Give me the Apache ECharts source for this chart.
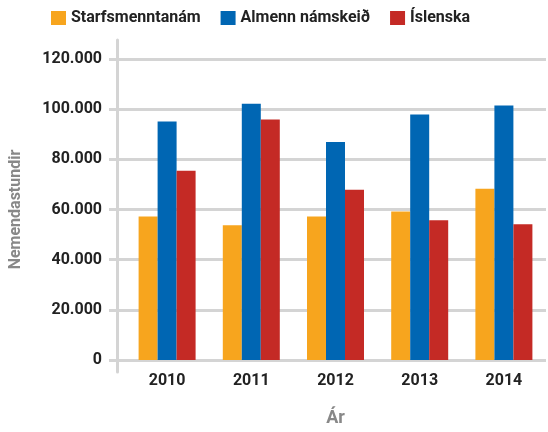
<!DOCTYPE html>
<html>
<head>
<meta charset="utf-8">
<script src="https://cdn.jsdelivr.net/npm/echarts@6/dist/echarts.min.js"></script>
<style>
  html, body { margin: 0; padding: 0; background: #fff; }
  #chart { width: 548px; height: 432px; }
</style>
</head>
<body>
<div id="chart"></div>
<script>
var years = ['2010', '2011', '2012', '2013', '2014'];
var starfsmenntanam = [57200, 53700, 57200, 59200, 68300];
var almennNamskeid = [95100, 102200, 86900, 97900, 101500];
var islenska = [75400, 95900, 67900, 55700, 54100];
var yTicks = [0, 20000, 40000, 60000, 80000, 100000, 120000];

var font = "Roboto, sans-serif";
var weight = 'bold';
var gridGray = '#d4d4d4';

function thousands(v) {
	return String(v).replace(/\B(?=(\d{3})+(?!\d))/g, '.');
}

var myChart = echarts.init(document.getElementById('chart'));
var option = {
	animation: false,
	color: ['#f7a51e', '#0066b3', '#c42a25'],
	legend: {
		left: 46,
		top: 5,
		icon: 'rect',
		itemWidth: 15,
		itemHeight: 14,
		itemGap: 20,
		textStyle: {
			fontFamily: font,
			fontWeight: weight,
			fontSize: 16,
			color: '#222'
		}
	},
	grid: [
		{ left: 124, right: 2, top: 59, bottom: 69 },
		{ left: 117, width: 1, top: 40, bottom: 60 }
	],
	xAxis: [{
		type: 'category',
		gridIndex: 0,
		data: years,
		name: 'Ár',
		nameLocation: 'middle',
		nameGap: 49,
		nameTextStyle: {
			fontFamily: font,
			fontWeight: weight,
			fontSize: 18,
			color: '#888'
		},
		axisLine: { show: false },
		axisTick: { show: false },
		axisLabel: {
			margin: 13,
			fontFamily: font,
			fontWeight: weight,
			fontSize: 16,
			color: '#222'
		}
	}, {
		type: 'category',
		gridIndex: 1,
		show: false
	}],
	yAxis: [{
		type: 'value',
		gridIndex: 0,
		min: yTicks[0],
		max: yTicks[yTicks.length - 1],
		interval: 20000,
		name: 'Nemendastundir',
		nameLocation: 'middle',
		nameGap: 101,
		nameTextStyle: {
			fontFamily: font,
			fontWeight: weight,
			fontSize: 16,
			color: '#888'
		},
		axisLine: { show: false },
		axisTick: {
			show: true,
			length: 16,
			lineStyle: { color: gridGray, width: 3 }
		},
		splitLine: {
			lineStyle: { color: gridGray, width: 3 }
		},
		axisLabel: {
			margin: 23,
			fontFamily: font,
			fontWeight: weight,
			fontSize: 16,
			color: '#222',
			formatter: thousands
		}
	}, {
		type: 'value',
		gridIndex: 1,
		axisLine: {
			show: true,
			lineStyle: { color: gridGray, width: 3 }
		},
		axisTick: { show: false },
		axisLabel: { show: false },
		splitLine: { show: false }
	}],
	series: [{
		name: 'Starfsmenntanám',
		type: 'bar',
		data: starfsmenntanam,
		barWidth: 19,
		barGap: '0%'
	}, {
		name: 'Almenn námskeið',
		type: 'bar',
		data: almennNamskeid,
		barWidth: 19,
		barGap: '0%'
	}, {
		name: 'Íslenska',
		type: 'bar',
		data: islenska,
		barWidth: 19,
		barGap: '0%'
	}]
};

myChart.setOption(option);
window.addEventListener('resize', function () {
	myChart.resize();
});
</script>
</body>
</html>
